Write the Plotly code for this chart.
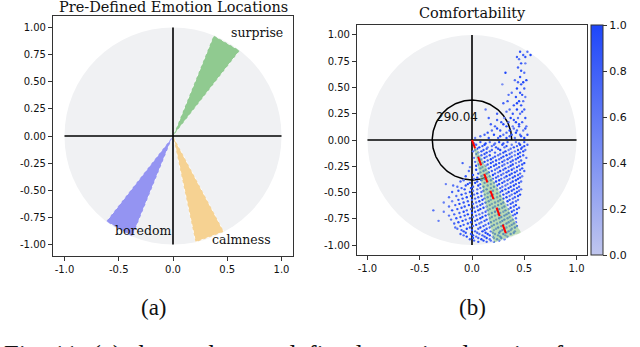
import numpy as np
import plotly.graph_objects as go

# ---------------- data ----------------
emotion_names = ["surprise", "boredom", "calmness"]
emotion_angles = [60.0, 240.0, 290.0]          # degrees
emotion_width = 16.0                           # degrees
emotion_colors = ["rgb(144,202,144)", "rgb(148,148,242)", "rgb(246,210,146)"]
label_x = [0.77, -0.28, 0.63]
label_y = [0.95, -0.875, -0.95]

pred_angle = 290.04
arc_radius = 0.38
circle_radius = 1.0

x_ticks = [-1.0, -0.5, 0.0, 0.5, 1.0]
y_ticks = [-1.0, -0.75, -0.5, -0.25, 0.0, 0.25, 0.5, 0.75, 1.0]
cbar_ticks = [0.0, 0.2, 0.4, 0.6, 0.8, 1.0]

# comfortability samples: (y, x-values, colour levels 0-9)
cloud_upper = [
    (0.84, [0.46, 0.53], "86"),
    (0.81, [0.49, 0.56], "79"),
    (0.79, [0.43, 0.51], "78"),
    (0.77, [0.45], "6"),
    (0.73, [0.47, 0.51], "85"),
    (0.69, [0.44], "7"),
    (0.66, [0.47], "8"),
    (0.64, [0.32, 0.50], "96"),
    (0.60, [0.46], "8"),
    (0.57, [0.41, 0.52], "69"),
    (0.55, [0.44, 0.49], "79"),
    (0.53, [0.29, 0.47], "48"),
    (0.49, [0.43, 0.50], "97"),
    (0.45, [0.38, 0.46], "68"),
    (0.43, [0.48, 0.35], "86"),
    (0.41, [0.42, 0.51], "85"),
    (0.37, [0.34, 0.45, 0.49], "796"),
    (0.35, [0.43, 0.30], "97"),
    (0.33, [0.40, 0.47], "88"),
    (0.29, [0.13, 0.36, 0.43, 0.50], "5697"),
    (0.27, [0.33, 0.48], "68"),
    (0.25, [0.24, 0.39, 0.46], "786"),
    (0.21, [0.16, 0.31, 0.37, 0.44, 0.51], "75968"),
    (0.19, [0.40, 0.24], "87"),
    (0.17, [0.28, 0.35, 0.42, 0.48], "8697"),
    (0.15, [0.18, 0.30, 0.45], "798"),
    (0.13, [0.22, 0.33, 0.39, 0.45, 0.52], "79586"),
    (0.11, [0.24, 0.40, 0.51], "968"),
    (0.09, [0.19, 0.27, 0.36, 0.43, 0.49], "68975"),
    (0.07, [0.15, 0.33, 0.42], "879"),
    (0.05, [0.12, 0.21, 0.30, 0.38, 0.46, 0.53], "796868"),
    (0.035, [0.08, 0.27, 0.36, 0.47], "6978"),
    (0.02, [0.03, 0.16, 0.25, 0.33, 0.41, 0.50], "587969"),
]
cloud_lower = [
    (-0.02, [0.08, 0.17, 0.26, 0.34, 0.42, 0.50], "869758"),
    (-0.033, [0.02, 0.13, 0.22, 0.30, 0.45], "79687"),
    (-0.045, [0.04, 0.12, 0.21, 0.29, 0.38, 0.46, 0.53], "7968597"),
    (-0.058, [0.10, 0.19, 0.33, 0.43, 0.50], "86979"),
    (-0.07, [0.07, 0.15, 0.23, 0.31, 0.40, 0.48], "958687"),
    (-0.083, [0.05, 0.14, 0.25, 0.37, 0.47], "97868"),
    (-0.095, [0.03, 0.11, 0.19, 0.27, 0.35, 0.44, 0.51], "6879586"),
    (-0.108, [0.01, 0.09, 0.17, 0.32, 0.41, 0.49], "687959"),
    (-0.12, [0.06, 0.14, 0.22, 0.30, 0.38, 0.46], "897968"),
    (-0.133, [0.04, 0.12, 0.27, 0.36, 0.44], "98679"),
    (-0.145, [0.09, 0.17, 0.25, 0.33, 0.41, 0.49], "786957"),
    (-0.158, [0.06, 0.14, 0.22, 0.30, 0.38, 0.46], "768979"),
    (-0.17, [0.02, 0.12, 0.20, 0.28, 0.36, 0.44, 0.52], "5968796"),
    (-0.183, [0.09, 0.18, 0.26, 0.34, 0.42], "89687"),
    (-0.195, [0.07, 0.15, 0.23, 0.31, 0.39, 0.47], "879687"),
    (-0.208, [0.03, 0.12, 0.20, 0.29, 0.37, 0.45], "697986"),
    (-0.22, [-0.09, 0.10, 0.18, 0.26, 0.34, 0.42, 0.50], "7698759"),
    (-0.233, [0.06, 0.15, 0.23, 0.31, 0.39, 0.48], "879698"),
    (-0.245, [0.04, 0.13, 0.21, 0.29, 0.37, 0.45], "968796"),
    (-0.258, [-0.02, 0.10, 0.18, 0.26, 0.35, 0.43], "579869"),
    (-0.27, [0.08, 0.16, 0.24, 0.32, 0.40, 0.48], "786958"),
    (-0.283, [0.04, 0.13, 0.22, 0.30, 0.38, 0.46], "986797"),
    (-0.295, [-0.03, 0.11, 0.19, 0.27, 0.35, 0.43, 0.50], "6979867"),
    (-0.308, [0.08, 0.16, 0.25, 0.33, 0.41], "79689"),
    (-0.32, [0.06, 0.14, 0.22, 0.30, 0.38, 0.46], "897697"),
    (-0.333, [0.01, 0.11, 0.20, 0.28, 0.36, 0.44], "869797"),
    (-0.345, [-0.06, 0.09, 0.17, 0.25, 0.33, 0.41, 0.48], "8796985"),
    (-0.358, [0.05, 0.14, 0.23, 0.31, 0.39, 0.46], "978698"),
    (-0.37, [0.02, 0.12, 0.20, 0.28, 0.36, 0.44], "698769"),
    (-0.383, [-0.08, 0.09, 0.18, 0.26, 0.34, 0.42], "698979"),
    (-0.395, [-0.11, 0.05, 0.15, 0.23, 0.31, 0.39, 0.47], "7869796"),
    (-0.408, [-0.02, 0.03, 0.12, 0.21, 0.29, 0.37, 0.45], "7986978"),
    (-0.42, [-0.25, -0.04, 0.08, 0.18, 0.26, 0.34, 0.42], "5987968"),
    (-0.433, [-0.18, -0.06, 0.06, 0.15, 0.24, 0.32, 0.40], "6897969"),
    (-0.445, [-0.14, 0.01, 0.11, 0.21, 0.29, 0.37, 0.45], "6798697"),
    (-0.458, [-0.10, -0.01, 0.08, 0.18, 0.27, 0.35, 0.43], "7968798"),
    (-0.47, [-0.07, 0.05, 0.14, 0.24, 0.32, 0.40, 0.47], "8697986"),
    (-0.483, [-0.13, 0.01, 0.11, 0.20, 0.29, 0.38, 0.45], "8697986"),
    (-0.495, [-0.19, -0.02, 0.09, 0.17, 0.27, 0.35, 0.43], "7869798"),
    (-0.508, [-0.06, 0.05, 0.15, 0.24, 0.33, 0.41], "796879"),
    (-0.52, [-0.10, 0.02, 0.12, 0.20, 0.30, 0.38, 0.46], "9687969"),
    (-0.533, [-0.15, -0.01, 0.09, 0.18, 0.27, 0.36, 0.44], "6987968"),
    (-0.545, [-0.22, -0.05, 0.06, 0.15, 0.24, 0.33, 0.41], "6978697"),
    (-0.558, [-0.09, 0.03, 0.12, 0.21, 0.30, 0.39], "879697"),
    (-0.57, [-0.13, 0.00, 0.10, 0.18, 0.27, 0.36, 0.44], "8796986"),
    (-0.583, [-0.19, -0.04, 0.07, 0.16, 0.25, 0.34, 0.42], "5798796"),
    (-0.595, [-0.27, -0.08, 0.04, 0.13, 0.22, 0.30, 0.39], "5869798"),
    (-0.608, [-0.12, 0.01, 0.10, 0.19, 0.28, 0.37], "978698"),
    (-0.62, [-0.16, -0.03, 0.08, 0.17, 0.25, 0.34, 0.42], "7987969"),
    (-0.633, [-0.22, -0.07, 0.05, 0.14, 0.22, 0.31, 0.40], "6879797"),
    (-0.645, [-0.10, 0.02, 0.11, 0.20, 0.29, 0.37, 0.45], "8698797"),
    (-0.658, [-0.14, -0.01, 0.08, 0.17, 0.26, 0.35, 0.43], "8697968"),
    (-0.67, [-0.37, -0.19, -0.05, 0.06, 0.15, 0.24, 0.32, 0.40], "68798697"),
    (-0.683, [-0.27, -0.08, 0.03, 0.13, 0.22, 0.30, 0.38], "5987969"),
    (-0.695, [-0.12, 0.00, 0.10, 0.19, 0.27, 0.35, 0.43], "7968798"),
    (-0.708, [-0.17, -0.04, 0.07, 0.16, 0.25, 0.33, 0.41], "7968798"),
    (-0.72, [-0.22, -0.07, 0.04, 0.13, 0.22, 0.31, 0.39], "6879697"),
    (-0.733, [-0.11, 0.01, 0.10, 0.19, 0.28, 0.36], "869797"),
    (-0.745, [-0.15, -0.02, 0.08, 0.17, 0.26, 0.34, 0.42], "8796986"),
    (-0.758, [-0.20, -0.06, 0.05, 0.14, 0.23, 0.31, 0.39], "6798698"),
    (-0.77, [-0.32, -0.09, 0.03, 0.12, 0.21, 0.29, 0.37], "5978697"),
    (-0.783, [-0.13, -0.01, 0.09, 0.18, 0.27, 0.35, 0.42], "8969787"),
    (-0.795, [-0.17, -0.04, 0.07, 0.16, 0.24, 0.33, 0.40], "7869798"),
    (-0.808, [-0.08, 0.04, 0.13, 0.21, 0.30, 0.38], "796898"),
    (-0.82, [-0.11, 0.01, 0.11, 0.19, 0.28, 0.36, 0.43], "9687969"),
    (-0.833, [-0.16, -0.02, 0.08, 0.17, 0.25, 0.33, 0.41], "6897969"),
    (-0.845, [-0.14, -0.05, 0.06, 0.14, 0.23, 0.31, 0.38], "6978697"),
    (-0.858, [-0.10, 0.00, 0.12, 0.21, 0.29, 0.37], "798697"),
    (-0.87, [-0.08, 0.03, 0.10, 0.18, 0.27, 0.35, 0.41], "8796987"),
    (-0.883, [-0.06, 0.05, 0.13, 0.20, 0.26, 0.33, 0.40], "8796978"),
    (-0.895, [-0.11, -0.01, 0.07, 0.15, 0.22, 0.30, 0.37], "7869798"),
    (-0.908, [-0.08, 0.01, 0.10, 0.17, 0.25, 0.32], "697986"),
    (-0.92, [-0.05, 0.04, 0.12, 0.20, 0.27, 0.34], "968797"),
    (-0.933, [0.01, 0.06, 0.14, 0.21, 0.28], "87969"),
    (-0.945, [-0.02, 0.09, 0.17, 0.24, 0.31], "79686"),
    (-0.958, [0.02, 0.11, 0.18, 0.26], "7968"),
    (-0.97, [0.06, 0.14, 0.21], "879"),
]

# ---------------- build ----------------
W, H = 640, 347
def px(v): return v / W
def py(v): return 1 - v / H

pts_x, pts_y, pts_c = [], [], []
for yv, xs, lv in cloud_upper + cloud_lower:
    for xv, d in zip(xs, lv):
        pts_x.append(xv)
        pts_y.append(yv)
        pts_c.append(int(d) / 9.0)

def wedge(angle, width, r=1.0):
    a1 = np.radians(angle - width / 2)
    a2 = np.radians(angle + width / 2)
    return [0, r * np.cos(a1), r * np.cos(a2), 0], [0, r * np.sin(a1), r * np.sin(a2), 0]

fig = go.Figure()
tick_font = dict(family="DejaVu Sans", size=10, color="#111")
serif = "DejaVu Serif"

# left panel
for name, ang, col, lx, ly in zip(emotion_names, emotion_angles, emotion_colors, label_x, label_y):
    wx, wy = wedge(ang, emotion_width, circle_radius)
    fig.add_trace(go.Scatter(x=wx, y=wy, fill="toself", fillcolor=col, mode="lines",
                             line=dict(color="rgba(255,255,255,0.85)", width=1, dash="dot"),
                             xaxis="x", yaxis="y", showlegend=False, hoverinfo="skip"))
    fig.add_annotation(x=lx, y=ly, xref="x", yref="y", text=name, showarrow=False,
                       xanchor="center", yanchor="middle",
                       font=dict(family=serif, size=12.5, color="#111"))
for xref, yref in [("x", "y"), ("x2", "y2")]:
    fig.add_trace(go.Scatter(x=[-circle_radius, circle_radius], y=[0, 0], mode="lines",
                             line=dict(color="black", width=1.6), xaxis=xref, yaxis=yref,
                             showlegend=False, hoverinfo="skip"))
    fig.add_trace(go.Scatter(x=[0, 0], y=[-circle_radius, circle_radius], mode="lines",
                             line=dict(color="black", width=1.6), xaxis=xref, yaxis=yref,
                             showlegend=False, hoverinfo="skip"))
    fig.add_shape(type="circle", xref=xref, yref=yref, x0=-circle_radius, x1=circle_radius,
                  y0=-circle_radius, y1=circle_radius, fillcolor="#f0f1f3",
                  line=dict(width=0), layer="below")

# right panel
th = np.radians(np.linspace(0, pred_angle, 200))
fig.add_trace(go.Scatter(x=arc_radius * np.cos(th), y=arc_radius * np.sin(th), mode="lines",
                         line=dict(color="black", width=1.5), xaxis="x2", yaxis="y2",
                         showlegend=False, hoverinfo="skip"))
fig.add_trace(go.Scatter(
    x=pts_x, y=pts_y, mode="markers", xaxis="x2", yaxis="y2", showlegend=False,
    marker=dict(size=2.4, color=pts_c, cmin=0, cmax=1,
                colorscale=[[0, "rgb(192,198,238)"], [1, "rgb(30,70,250)"]],
                line=dict(width=0),
                showscale=True,
                colorbar=dict(x=px(591), xanchor="left", thickness=12,
                              len=(255 - 25) / H, lenmode="fraction",
                              y=py(140), yanchor="middle",
                              outlinecolor="#333", outlinewidth=1,
                              tickvals=cbar_ticks, ticktext=[f"{v:.1f}" for v in cbar_ticks],
                              ticks="outside", ticklen=4, tickcolor="#333",
                              tickfont=dict(family="DejaVu Sans", size=11, color="#111"),
                              xpad=0, ypad=0))))
wx, wy = wedge(pred_angle, emotion_width, circle_radius)
fig.add_trace(go.Scatter(x=wx, y=wy, fill="toself", fillcolor="rgba(140,200,130,0.55)",
                         mode="lines", line=dict(color="rgba(255,255,255,0.5)", width=1, dash="dot"),
                         xaxis="x2", yaxis="y2", showlegend=False, hoverinfo="skip"))
fig.add_trace(go.Scatter(x=[0, circle_radius * np.cos(np.radians(pred_angle))],
                         y=[0, circle_radius * np.sin(np.radians(pred_angle))], mode="lines",
                         line=dict(color="red", width=2, dash="dash"),
                         xaxis="x2", yaxis="y2", showlegend=False, hoverinfo="skip"))
fig.add_annotation(x=-0.14, y=0.22, xref="x2", yref="y2", text=f"{pred_angle:.2f}",
                   showarrow=False, xanchor="center", yanchor="middle",
                   font=dict(family="DejaVu Sans", size=12, color="#111"))

axis_common = dict(showgrid=False, zeroline=False, showline=True, mirror=True,
                   linecolor="#333", linewidth=1.2, ticks="outside", ticklen=4,
                   tickcolor="#333", tickfont=tick_font)
fig.update_layout(
    width=W, height=H, margin=dict(l=0, r=0, t=0, b=0, autoexpand=False),
    paper_bgcolor="white", plot_bgcolor="white",
    xaxis=dict(domain=[px(53), px(293)], range=[-1.106, 1.106], anchor="y",
               tickvals=x_ticks, ticktext=[f"{v:.1f}" for v in x_ticks], **axis_common),
    yaxis=dict(domain=[py(256), py(16)], range=[-1.106, 1.106], anchor="x",
               tickvals=y_ticks, ticktext=[f"{v:.2f}" for v in y_ticks], **axis_common),
    xaxis2=dict(domain=[px(357), px(587)], range=[-1.10, 1.10], anchor="y2",
                tickvals=x_ticks, ticktext=[f"{v:.1f}" for v in x_ticks], **axis_common),
    yaxis2=dict(domain=[py(255), py(25)], range=[-1.095, 1.095], anchor="x2",
                tickvals=y_ticks, ticktext=[f"{v:.2f}" for v in y_ticks], **axis_common),
)

def paper_text(x, y, text, family, size, xanchor="center", yanchor="middle"):
    fig.add_annotation(x=px(x), y=py(y), xref="paper", yref="paper", showarrow=False,
                       xanchor=xanchor, yanchor=yanchor, text=text,
                       font=dict(family=family, size=size, color="#111"))

paper_text(173, 7, "Pre-Defined Emotion Locations", serif, 14.5)
paper_text(472, 13, "Comfortability", serif, 14.5)
paper_text(154, 307, "(a)", "Liberation Serif", 23)
paper_text(472, 307, "(b)", "Liberation Serif", 23)
paper_text(2, 355, "Fig. 11: (a) shows the pre-defined emotion location for emotions",
           "Liberation Serif", 26.5, xanchor="left")

fig.write_html("out.html", config={"displayModeBar": False},
               post_script="document.body.style.margin='0';document.body.style.overflow='hidden';")
